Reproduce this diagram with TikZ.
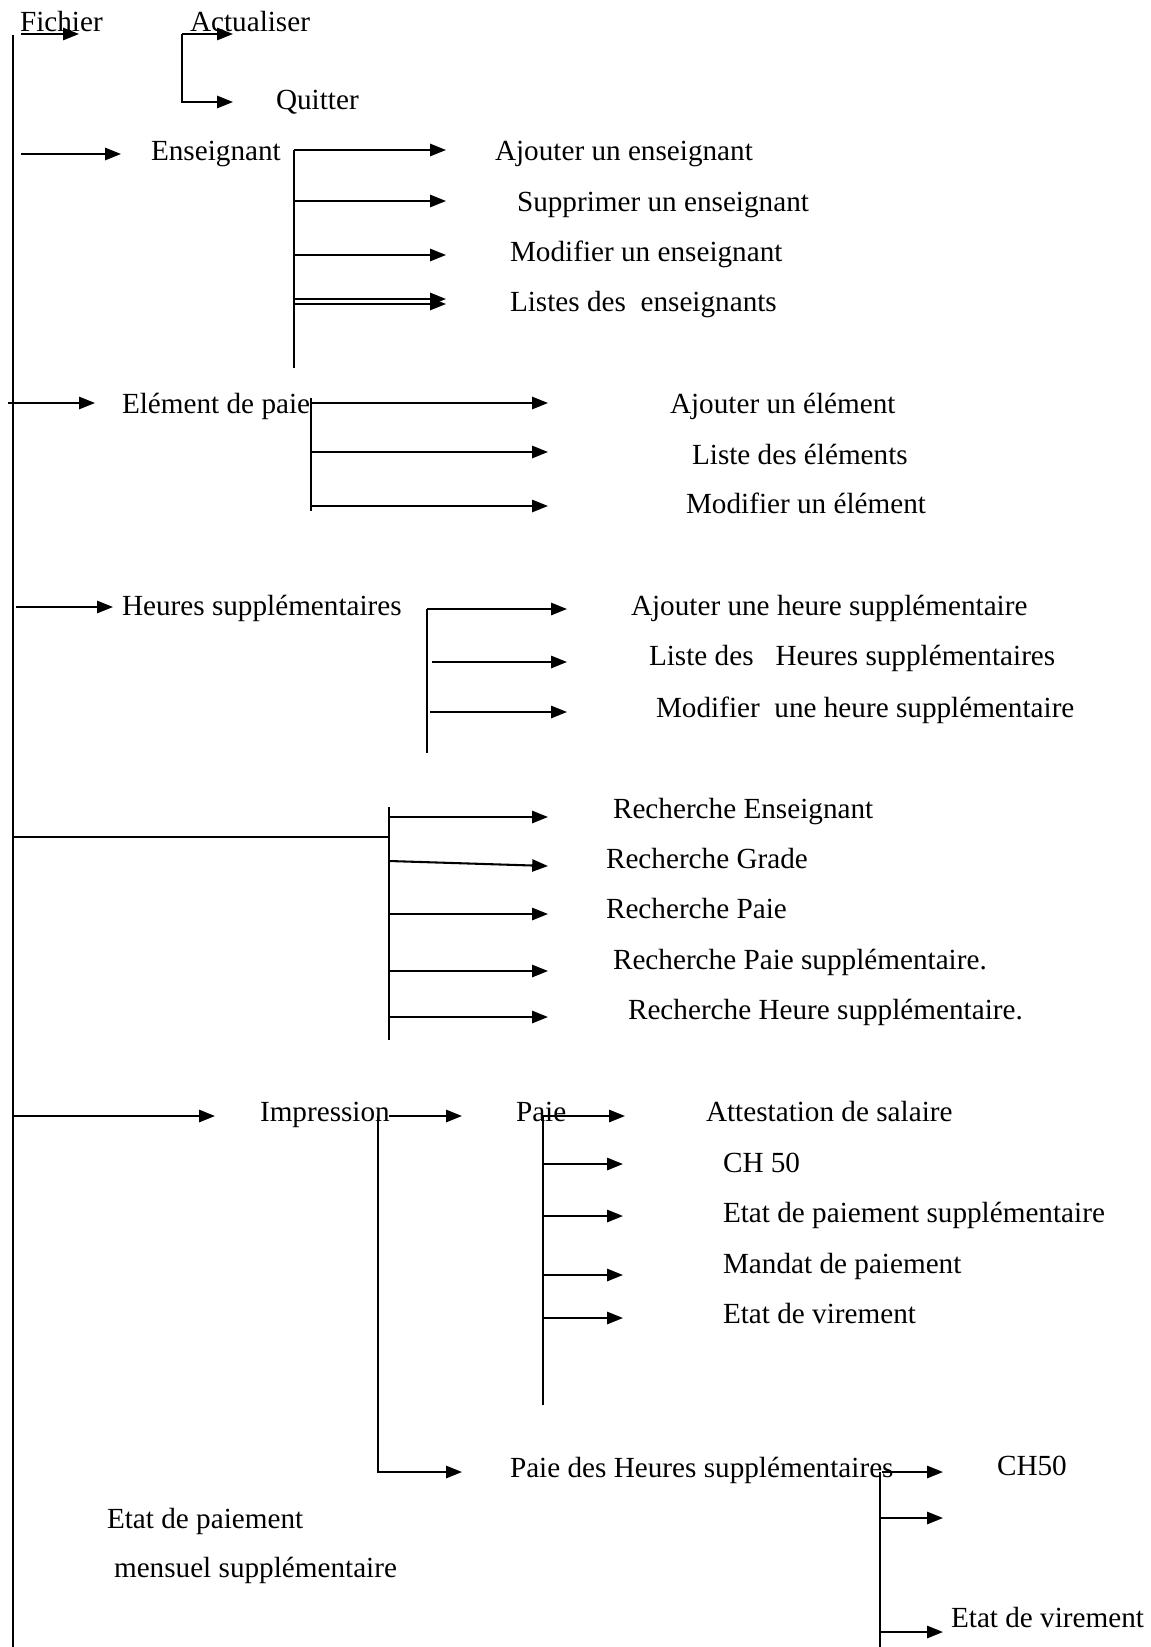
\documentclass[tikz,border=0pt]{standalone}
\usepackage{fontspec}
\setmainfont{Liberation Serif}
\usetikzlibrary{arrows.meta}

\begin{document}
\begin{tikzpicture}[x=0.411pt, y=-0.411pt, line width=0.85pt,
  >={Triangle[length=6.5pt,width=5pt]},
  item/.style={anchor=west, inner sep=0pt, text height=1.5ex, text depth=.25ex,
    yshift=-1.6pt, font=\fontsize{12}{14}\selectfont}]
\useasboundingbox (0,0) rectangle (1150,1647);

% menu principal
\coordinate (top) at (13,35);
\coordinate (bottom) at (13,1647);
\draw (top) -- (bottom);

% Fichier
\node[item] (fichier) at (19,21) {Fichier};
\node[item] (actualiser) at (189,21) {Actualiser};
\node[item] (quitter) at (275,99) {Quitter};
\coordinate (fich0) at (21,34);
\coordinate (fich1) at (79,34);
\coordinate (act0) at (182,34);
\coordinate (act1) at (233,34);
\coordinate (quit0) at (182,102);
\coordinate (quit1) at (233,102);
\draw[->] (fich0) -- (fich1);
\draw[->] (act0) -- (act1);
\draw[->] (act0) -- (quit0) -- (quit1);

% Enseignant
\node[item] (enseignant) at (150,150) {Enseignant};
\node[item] (ajoutens) at (494,150) {Ajouter un enseignant};
\node[item] (suppens) at (516,201) {Supprimer un enseignant};
\node[item] (modifens) at (509,251) {Modifier un enseignant};
\node[item] (listens) at (509,301) {Listes des~ enseignants};
\coordinate (ens0) at (21,154);
\coordinate (ens1) at (121,154);
\draw[->] (ens0) -- (ens1);
\coordinate (ensbar0) at (294,150);
\coordinate (ensbar1) at (294,368);
\draw (ensbar0) -- (ensbar1);
\foreach \n/\y in {1/150,2/201,3/255,4/299,5/304} {
  \coordinate (ensa\n) at (294,\y);
  \coordinate (ensb\n) at (446,\y);
  \draw[->] (ensa\n) -- (ensb\n);
}

% Element de paie
\node[item] (element) at (121,403) {Elément de paie};
\node[item] (ajoutelt) at (669,403) {Ajouter un élément};
\node[item] (listelt) at (691,454) {Liste des éléments};
\node[item] (modifelt) at (685,503) {Modifier un élément};
\coordinate (elt0) at (8,403);
\coordinate (elt1) at (95,403);
\draw[->] (elt0) -- (elt1);
\coordinate (eltbar0) at (311,398);
\coordinate (eltbar1) at (311,511);
\draw (eltbar0) -- (eltbar1);
\foreach \n/\y in {1/403,2/452,3/506} {
  \coordinate (elta\n) at (311,\y);
  \coordinate (eltb\n) at (548,\y);
  \draw[->] (elta\n) -- (eltb\n);
}

% Heures supplementaires
\node[item] (heures) at (121,605) {Heures supplémentaires};
\node[item] (ajouths) at (630,605) {Ajouter une heure supplémentaire};
\node[item] (lisths) at (648,655) {Liste des~~ Heures supplémentaires};
\node[item] (modifhs) at (655,707) {Modifier~ une heure supplémentaire};
\coordinate (hs0) at (16,607);
\coordinate (hs1) at (113,607);
\draw[->] (hs0) -- (hs1);
\coordinate (hsbar0) at (427,609);
\coordinate (hsbar1) at (427,753);
\draw (hsbar0) -- (hsbar1);
\foreach \n/\x/\y in {1/427/609,2/432/662,3/430/712} {
  \coordinate (hsa\n) at (\x,\y);
  \coordinate (hsb\n) at (567,\y);
  \draw[->] (hsa\n) -- (hsb\n);
}

% Recherche
\node[item] (rechens) at (612,808) {Recherche Enseignant};
\node[item] (rechgrade) at (605,858) {Recherche Grade};
\node[item] (rechpaie) at (605,908) {Recherche Paie};
\node[item] (rechpaiesup) at (612,959) {Recherche Paie supplémentaire.};
\node[item] (rechheure) at (627,1009) {Recherche Heure supplémentaire.};
\coordinate (rech0) at (13,837);
\coordinate (rech1) at (389,837);
\draw (rech0) -- (rech1);
\coordinate (rechbar0) at (389,807);
\coordinate (rechbar1) at (389,1040);
\draw (rechbar0) -- (rechbar1);
\foreach \n/\ya/\yb in {1/817/817,2/861/866,3/914/914,4/971/971,5/1017/1017} {
  \coordinate (recha\n) at (389,\ya);
  \coordinate (rechb\n) at (548,\yb);
  \draw[->] (recha\n) -- (rechb\n);
}

% Impression
\node[item] (impression) at (259,1111) {Impression};
\node[item] (paie) at (515,1111) {Paie};
\node[item] (paiehs) at (509,1467) {Paie des Heures supplémentaires};
\coordinate (imp0) at (13,1116);
\coordinate (imp1) at (215,1116);
\draw[->] (imp0) -- (imp1);
\coordinate (imppaie0) at (389,1116);
\coordinate (imppaie1) at (462,1116);
\draw[->] (imppaie0) -- (imppaie1);
\coordinate (impbar0) at (378,1116);
\coordinate (impbar1) at (378,1472);
\coordinate (imphs1) at (462,1472);
\draw[->] (impbar0) -- (impbar1) -- (imphs1);

% Paie
\node[item] (attest) at (705,1111) {Attestation de salaire};
\node[item] (chpaie) at (722,1162) {CH 50};
\node[item] (etatpaie) at (722,1212) {Etat de paiement supplémentaire};
\node[item] (mandat) at (722,1263) {Mandat de paiement};
\node[item] (virpaie) at (722,1313) {Etat de virement};
\coordinate (paiebar0) at (543,1116);
\coordinate (paiebar1) at (543,1405);
\coordinate (attest0) at (625,1116);
\draw (paiebar0) -- (paiebar1);
\draw[->] (paiebar0) -- (attest0);
\foreach \n/\y in {1/1164,2/1216,3/1275,4/1318} {
  \coordinate (paiea\n) at (543,\y);
  \coordinate (paieb\n) at (623,\y);
  \draw[->] (paiea\n) -- (paieb\n);
}

% Paie des heures supplementaires
\node[item] (chhs) at (996,1465) {CH50};
\node[item] (virhs) at (950,1617) {Etat de virement};
\node[item] (etatmens) at (106,1518) {Etat de paiement};
\node[item] (mensuel) at (113,1567) {mensuel supplémentaire};
\coordinate (phs0) at (882,1472);
\coordinate (phs1) at (943,1472);
\draw[->] (phs0) -- (phs1);
\coordinate (phsbar0) at (880,1472);
\coordinate (phsbar1) at (880,1647);
\draw (phsbar0) -- (phsbar1);
\foreach \n/\y in {1/1518,2/1632} {
  \coordinate (phsa\n) at (880,\y);
  \coordinate (phsb\n) at (943,\y);
  \draw[->] (phsa\n) -- (phsb\n);
}
\end{tikzpicture}
\end{document}
